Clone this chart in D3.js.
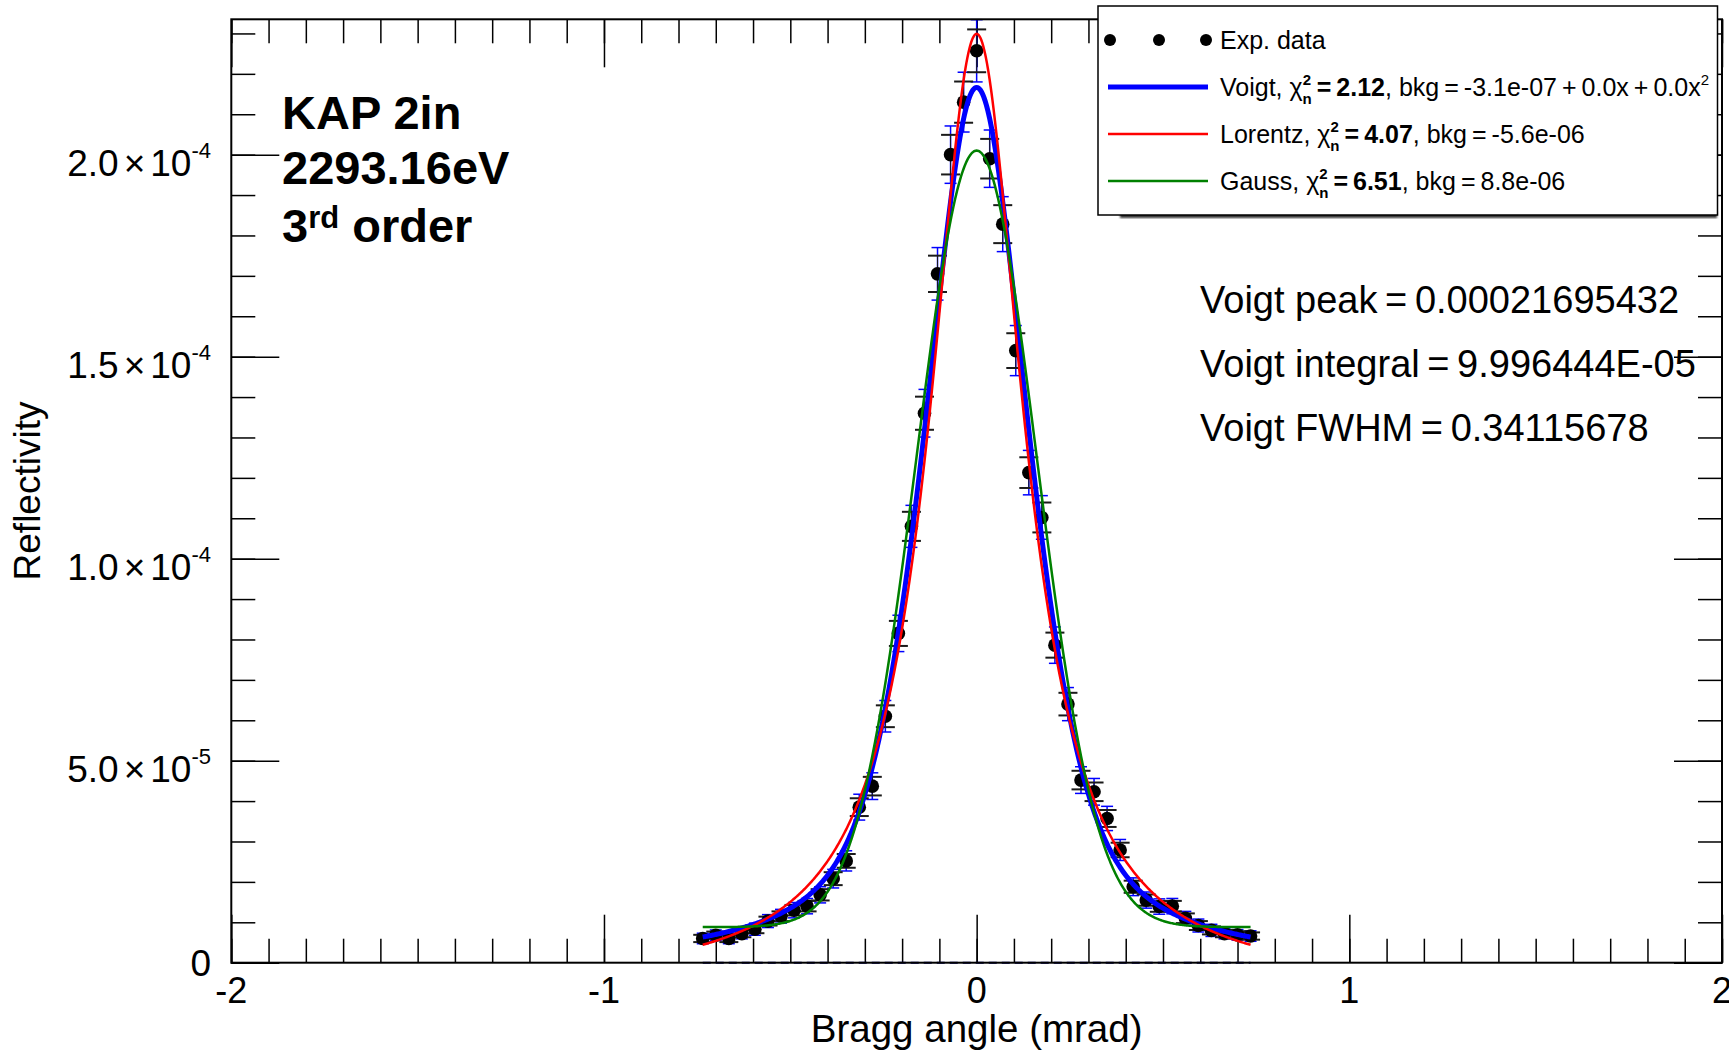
<!DOCTYPE html>
<html>
<head>
<meta charset="utf-8">
<script src="https://cdn.jsdelivr.net/npm/d3@7"></script>
<style>
body { margin: 0; background: #fff; }
svg { display: block; font-family: "Liberation Sans", Arial, Helvetica, sans-serif; }
</style>
</head>
<body>
<svg id="chart" width="1729" height="1053"></svg>
<script>
'use strict';

// measured rocking curve, reflectivity in units of 1e-5
var angle = [-0.735, -0.700, -0.665, -0.630, -0.595, -0.560, -0.525, -0.490, -0.455, -0.420, -0.385,
  -0.350, -0.315, -0.280, -0.245, -0.210, -0.175, -0.140, -0.105, -0.070, -0.035, 0.000,
  0.035, 0.070, 0.105, 0.140, 0.175, 0.210, 0.245, 0.280, 0.315, 0.350, 0.385,
  0.420, 0.455, 0.490, 0.525, 0.560, 0.595, 0.630, 0.665, 0.700, 0.735];
var reflectivity = [0.60, 0.68, 0.60, 0.72, 0.83, 1.03, 1.15, 1.30, 1.40, 1.68, 2.08,
  2.52, 3.85, 4.37, 6.10, 8.15, 10.8, 13.6, 17.05, 20.0, 21.3, 22.57,
  19.9, 18.28, 15.15, 12.13, 11.02, 7.86, 6.40, 4.52, 4.23, 3.57, 2.79,
  1.88, 1.55, 1.39, 1.40, 1.10, 0.92, 0.80, 0.72, 0.69, 0.66];
var errStat = [0.09, 0.09, 0.09, 0.09, 0.10, 0.11, 0.12, 0.13, 0.13, 0.14, 0.16,
  0.17, 0.22, 0.23, 0.27, 0.31, 0.36, 0.41, 0.45, 0.49, 0.51, 0.53,
  0.49, 0.47, 0.43, 0.38, 0.37, 0.31, 0.28, 0.23, 0.23, 0.21, 0.18,
  0.15, 0.14, 0.13, 0.13, 0.12, 0.11, 0.10, 0.09, 0.09, 0.09];
var errFit = [0.13, 0.13, 0.13, 0.13, 0.15, 0.16, 0.17, 0.19, 0.19, 0.20, 0.23,
  0.25, 0.32, 0.33, 0.39, 0.45, 0.52, 0.59, 0.65, 0.71, 0.74, 0.77,
  0.71, 0.68, 0.62, 0.55, 0.54, 0.45, 0.41, 0.33, 0.33, 0.30, 0.26,
  0.22, 0.20, 0.19, 0.19, 0.17, 0.16, 0.15, 0.13, 0.13, 0.13];

var xTicks = [-2, -1, 0, 1, 2];
var xTickLabels = ["-2", "-1", "0", "1", "2"];
var yTicks = [0, 5, 10, 15, 20];
var yTickMantissa = ["0", "5.0", "1.0", "1.5", "2.0"];
var yTickExponent = ["", "-5", "-4", "-4", "-4"];

// fits: Voigt (pseudo), Lorentz, Gauss
var fitNames = ["Voigt", "Lorentz", "Gauss"];
var fitColors = ["#0000ff", "#ff0000", "#008000"];
var fitStroke = [5, 2.5, 2.5];
var fitPeak = [21.695, 23.55, 19.22];
var fitWidth = [0.3412, 0.155, 0.161];   // FWHM, HWHM, sigma
var fitBkg = [-0.031, -0.56, 0.88];
var voigtLorentzShare = 0.6;
var fitChi2 = ["2.12", "4.07", "6.51"];
var fitBkgText = ["-3.1e-07\u2009+\u20090.0x\u2009+\u20090.0x", "-5.6e-06", "8.8e-06"];

var labelLines = ["KAP 2in", "2293.16eV"];
var voigtLines = ["Voigt peak\u2009=\u20090.00021695432", "Voigt integral\u2009=\u20099.996444E-05", "Voigt FWHM\u2009=\u20090.34115678"];

var svg = d3.select("#chart");
var x = d3.scaleLinear().domain([-2, 2]).range([231.3, 1722]);
var y = d3.scaleLinear().domain([0, 23.35]).range([962.7, 19.3]);
var frameL = x.range()[0], frameR = x.range()[1], frameT = y.range()[1], frameB = y.range()[0];

function fitValue(k, a) {
  var w = fitWidth[k];
  if (k === 0) {
    var u = a / (w / 2);
    return fitPeak[k] * (voigtLorentzShare / (1 + u * u) +
      (1 - voigtLorentzShare) * Math.exp(-Math.LN2 * u * u)) + fitBkg[k];
  }
  if (k === 1) return fitPeak[k] / (1 + (a / w) * (a / w)) + fitBkg[k];
  return fitPeak[k] * Math.exp(-a * a / (2 * w * w)) + fitBkg[k];
}

svg.append("rect").attr("x", 0).attr("y", 0).attr("width", 1729).attr("height", 1053).attr("fill", "#fff");

// ticks on all four sides, pointing inwards
function ticks(axisFn, scale, values, size, transform) {
  svg.append("g").attr("transform", transform)
    .call(axisFn(scale).tickValues(values).tickSize(size).tickSizeOuter(0).tickFormat(""))
    .call(function (g) { g.select(".domain").remove(); })
    .selectAll("line").attr("stroke", "#000").attr("stroke-width", 1.5);
}
var xMinor = x.ticks(40), yMinor = y.ticks(23);
ticks(d3.axisBottom, x, xMinor, -24, "translate(0," + frameB + ")");
ticks(d3.axisBottom, x, xTicks, -48, "translate(0," + frameB + ")");
ticks(d3.axisTop, x, xMinor, -24, "translate(0," + frameT + ")");
ticks(d3.axisTop, x, xTicks, -48, "translate(0," + frameT + ")");
ticks(d3.axisLeft, y, yMinor, -24, "translate(" + frameL + ",0)");
ticks(d3.axisLeft, y, yTicks, -48, "translate(" + frameL + ",0)");
ticks(d3.axisRight, y, yMinor, -24, "translate(" + frameR + ",0)");
ticks(d3.axisRight, y, yTicks, -48, "translate(" + frameR + ",0)");

// tick labels
svg.append("g").selectAll("text").data(xTicks).enter().append("text")
  .attr("x", function (d) { return x(d); })
  .attr("y", frameB + 40)
  .attr("text-anchor", "middle")
  .attr("font-size", 36)
  .text(function (d, i) { return xTickLabels[i]; });

var yLab = svg.append("g").selectAll("text").data(yTicks).enter().append("text")
  .attr("x", 211)
  .attr("y", function (d, i) { return y(d) + (yTickExponent[i] ? 21 : 13); })
  .attr("text-anchor", "end")
  .attr("font-size", 37);
yLab.append("tspan").text(function (d, i) { return yTickMantissa[i]; });
yLab.filter(function (d, i) { return yTickExponent[i]; }).each(function (d, i) {
  var t = d3.select(this);
  t.append("tspan").attr("dx", 5).text("\u00d7");
  t.append("tspan").attr("dx", 5).text("10");
  t.append("tspan").attr("font-size", 22).attr("dy", -18).text(yTickExponent[yTicks.indexOf(d)]);
});

// axis titles
svg.append("text").attr("x", (frameL + frameR) / 2).attr("y", 1042)
  .attr("text-anchor", "middle").attr("font-size", 38.5).text("Bragg angle (mrad)");
svg.append("text").attr("transform", "translate(40," + ((frameT + frameB) / 2) + ") rotate(-90)")
  .attr("text-anchor", "middle").attr("font-size", 37).text("Reflectivity");

// zero line of the fit residual
svg.append("line")
  .attr("x1", x(angle[0])).attr("x2", x(angle[angle.length - 1]))
  .attr("y1", y(0)).attr("y2", y(0))
  .attr("stroke", "#00007f").attr("stroke-width", 2).attr("stroke-dasharray", "8,5");

var pts = angle.map(function (a, i) {
  return { a: a, r: reflectivity[i], e: errStat[i], ef: errFit[i] };
});

// error bars used in the fit (blue) and statistical ones (black)
function errorBars(key, cap, color, width, vwidth) {
  var g = svg.append("g").selectAll("g").data(pts).enter().append("g");
  g.append("line")
    .attr("x1", function (d) { return x(d.a); }).attr("x2", function (d) { return x(d.a); })
    .attr("y1", function (d) { return y(d.r - d[key]); }).attr("y2", function (d) { return y(d.r + d[key]); })
    .attr("stroke", color).attr("stroke-width", vwidth);
  [-1, 1].forEach(function (s) {
    g.append("line")
      .attr("x1", function (d) { return x(d.a) - cap; }).attr("x2", function (d) { return x(d.a) + cap; })
      .attr("y1", function (d) { return y(d.r + s * d[key]); }).attr("y2", function (d) { return y(d.r + s * d[key]); })
      .attr("stroke", color).attr("stroke-width", width);
  });
}
errorBars("ef", 6, "#0000ff", 1.5, 1.5);
errorBars("e", 9.5, "#1a1a1a", 2, 1);

svg.append("g").selectAll("circle").data(pts).enter().append("circle")
  .attr("cx", function (d) { return x(d.a); })
  .attr("cy", function (d) { return y(d.r); })
  .attr("r", 6.8).attr("fill", "#000");

// fitted curves
var grid = d3.range(angle[0], angle[angle.length - 1] + 0.001, 0.0025);
fitNames.forEach(function (name, k) {
  var line = d3.line()
    .x(function (a) { return x(a); })
    .y(function (a) { return y(fitValue(k, a)); });
  svg.append("path").datum(grid)
    .attr("d", line)
    .attr("fill", "none")
    .attr("stroke", fitColors[k])
    .attr("stroke-width", fitStroke[k]);
});

// frame
svg.append("rect").attr("x", frameL).attr("y", frameT)
  .attr("width", frameR - frameL).attr("height", frameB - frameT)
  .attr("fill", "none").attr("stroke", "#000").attr("stroke-width", 2);

// label block
var lab = svg.append("g").attr("font-weight", "bold").attr("font-size", 47);
labelLines.forEach(function (s, i) {
  lab.append("text").attr("x", 282).attr("y", 129 + i * 55).text(s);
});
var ord = lab.append("text").attr("x", 282).attr("y", 242);
ord.append("tspan").text("3");
ord.append("tspan").attr("font-size", 31).attr("dy", -14).text("rd");
ord.append("tspan").attr("dy", 14).text(" order");

svg.append("g").attr("font-size", 38).selectAll("text").data(voigtLines).enter().append("text")
  .attr("x", 1200)
  .attr("y", function (d, i) { return 313 + i * 64; })
  .text(function (d) { return d; });

// legend
var defs = svg.append("defs");
defs.append("filter").attr("id", "blur").append("feGaussianBlur").attr("stdDeviation", 1.2);
var lg = svg.append("g");
lg.append("rect").attr("x", 1120).attr("y", 212).attr("width", 597).attr("height", 6)
  .attr("fill", "#333").attr("filter", "url(#blur)");
lg.append("rect").attr("x", 1098).attr("y", 6).attr("width", 619.5).attr("height", 209)
  .attr("fill", "#fff").attr("stroke", "#000").attr("stroke-width", 1.5);

var rowY = [40, 87, 134, 181];
[1110, 1159, 1206].forEach(function (cx) {
  lg.append("circle").attr("cx", cx).attr("cy", rowY[0]).attr("r", 6).attr("fill", "#000");
});
lg.append("text").attr("x", 1220).attr("y", rowY[0] + 9).attr("font-size", 25).text("Exp. data");

fitNames.forEach(function (name, k) {
  var cy = rowY[k + 1];
  lg.append("line").attr("x1", 1108).attr("x2", 1208).attr("y1", cy).attr("y2", cy)
    .attr("stroke", fitColors[k]).attr("stroke-width", fitStroke[k]);
  var t = lg.append("text").attr("x", 1220).attr("y", cy + 9).attr("font-size", 25);
  t.append("tspan").text(name + ", \u03c7");
  t.append("tspan").attr("font-size", 15).attr("font-weight", "bold").attr("dy", -11).text("2");
  t.append("tspan").attr("font-size", 15).attr("font-weight", "bold").attr("dx", -8.4).attr("dy", 19).text("n");
  t.append("tspan").attr("font-weight", "bold").attr("dy", -8).text("\u2009=\u2009" + fitChi2[k]);
  t.append("tspan").text(", bkg\u2009=\u2009" + fitBkgText[k]);
  if (k === 0) t.append("tspan").attr("font-size", 15).attr("dy", -11).text("2");
});
</script>
</body>
</html>
